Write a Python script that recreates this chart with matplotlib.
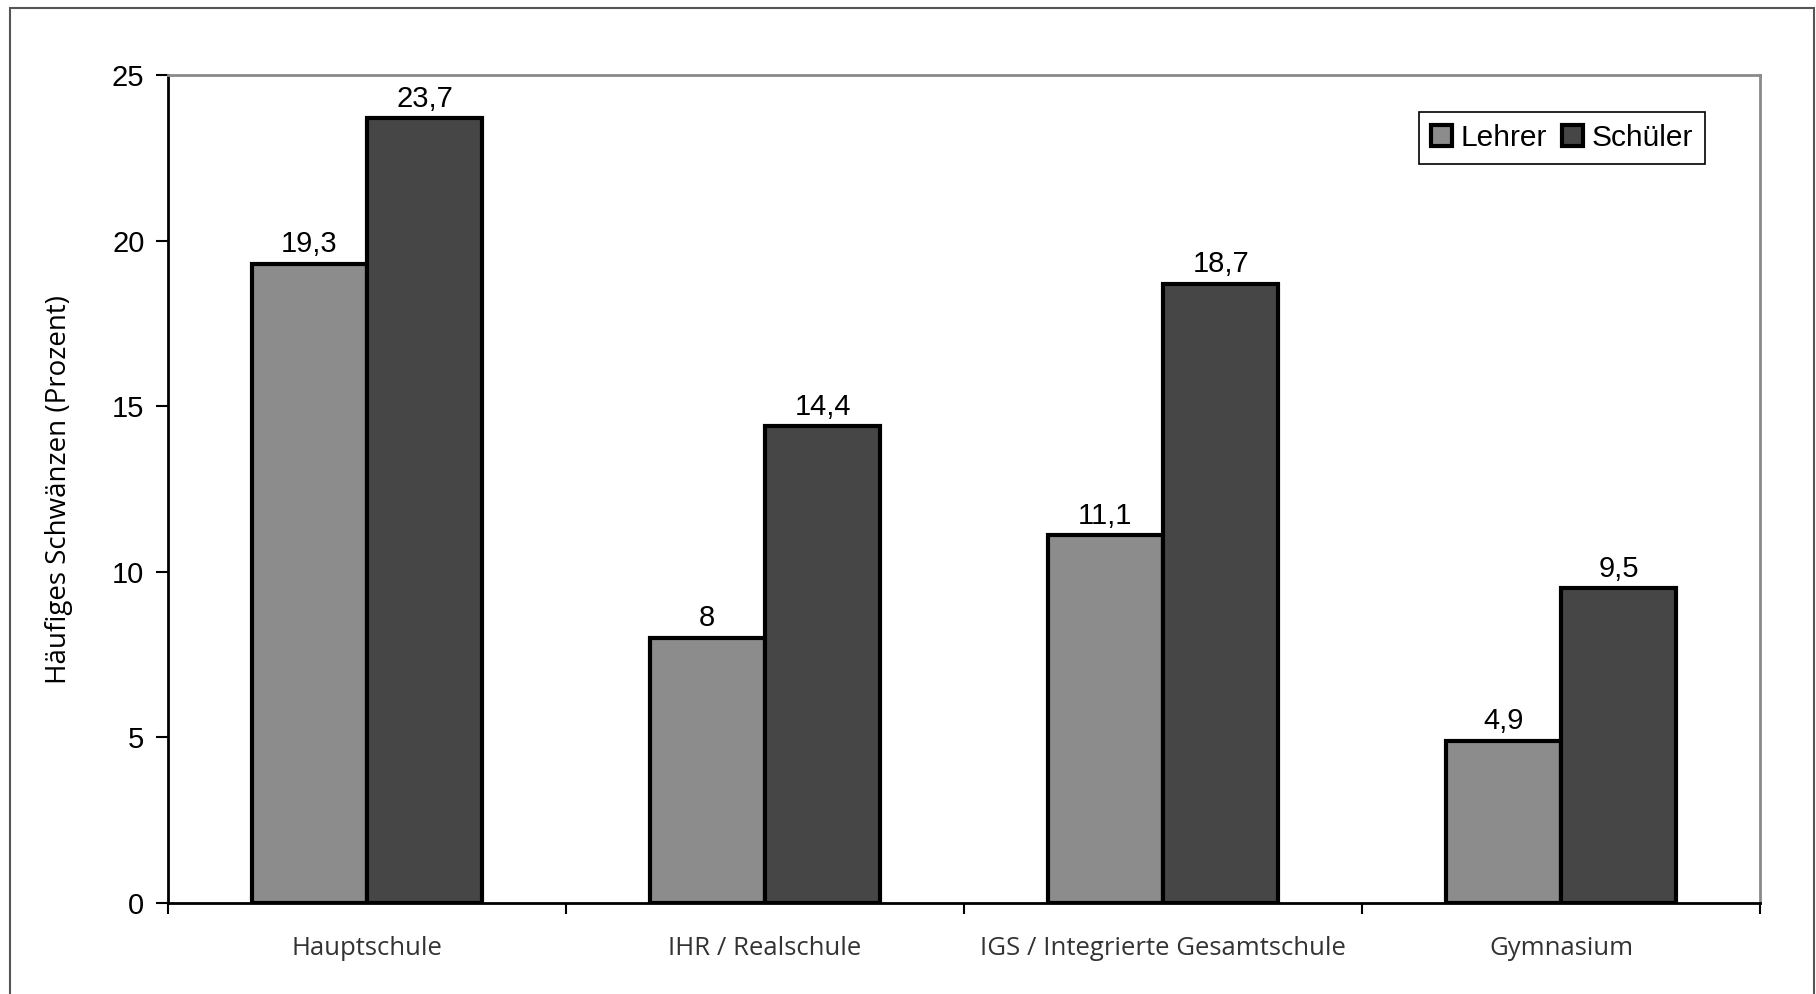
import matplotlib
matplotlib.use("Agg")
import matplotlib.pyplot as plt
import numpy as np
from matplotlib.patches import Rectangle

categories = ["Hauptschule", "IHR / Realschule", "IGS / Integrierte Gesamtschule", "Gymnasium"]
lehrer = [19.3, 8, 11.1, 4.9]
schueler = [23.7, 14.4, 18.7, 9.5]
lehrer_labels = ["19,3", "8", "11,1", "4,9"]
schueler_labels = ["23,7", "14,4", "18,7", "9,5"]
series_names = ["Lehrer", "Schüler"]
yticks = [0, 5, 10, 15, 20, 25]
ylabel = "Häufiges Schwänzen (Prozent)"

W, H = 1816, 994
fig = plt.figure(figsize=(W / 100, H / 100), dpi=100)
ax = fig.add_axes([168 / W, 1 - 903 / H, (1760 - 168) / W, (903 - 75) / H])

x = np.arange(len(categories))
bw = 0.29
c_l = "#8c8c8c"
c_s = "#464646"
b1 = ax.bar(x - bw / 2, lehrer, bw, color=c_l, edgecolor="black", linewidth=3, label=series_names[0], zorder=3)
b2 = ax.bar(x + bw / 2, schueler, bw, color=c_s, edgecolor="black", linewidth=3, label=series_names[1], zorder=3)

lab_font = dict(family="Liberation Sans", fontsize=21, color="black")
for rect, t in zip(b1, lehrer_labels):
    ax.annotate(t, (rect.get_x() + rect.get_width() / 2, rect.get_height()), xytext=(0, 4),
                textcoords="offset points", ha="center", va="bottom", **lab_font)
for rect, t in zip(b2, schueler_labels):
    ax.annotate(t, (rect.get_x() + rect.get_width() / 2, rect.get_height()), xytext=(0, 4),
                textcoords="offset points", ha="center", va="bottom", **lab_font)

ax.set_xlim(-0.5, len(categories) - 0.5)
ax.set_ylim(0, 25)
ax.set_yticks(yticks)
ax.set_yticklabels([str(v) for v in yticks], family="Liberation Sans", fontsize=21)
ax.tick_params(axis="y", direction="out", length=9, width=1.5, pad=8)

ax.set_xticks(x)
ax.set_xticklabels(categories, family="Open Sans", fontsize=18.5, color="#333333")
ax.tick_params(axis="x", which="major", length=0, pad=24)
ax.set_xticks(np.arange(-0.5, len(categories)), minor=True)
ax.tick_params(axis="x", which="minor", direction="out", length=8, width=1.5)

for s in ["left", "bottom"]:
    ax.spines[s].set_color("black")
    ax.spines[s].set_linewidth(2)
for s in ["top", "right"]:
    ax.spines[s].set_color("#8a8a8a")
    ax.spines[s].set_linewidth(2)

ax.set_ylabel(ylabel, family="Open Sans", fontsize=20, labelpad=28)

leg = ax.legend(loc="upper right", bbox_to_anchor=((1705 - 168) / (1760 - 168), (903 - 112) / (903 - 75)),
                ncol=2, frameon=True, fancybox=False, edgecolor="black", framealpha=1,
                prop=dict(family="Liberation Sans", size=21.5), handlelength=0.7, handleheight=0.7,
                handletextpad=0.3, columnspacing=0.5, borderpad=0.4, borderaxespad=0)
leg.get_frame().set_linewidth(1.2)
for h in leg.legend_handles:
    h.set_linewidth(3)

fig.patches.append(Rectangle((10 / W, -0.01), (1814 - 10) / W, 1 - 8 / H + 0.01, transform=fig.transFigure,
                             fill=False, edgecolor="#555555", linewidth=1.5))

fig.savefig("out.png", dpi=100)
